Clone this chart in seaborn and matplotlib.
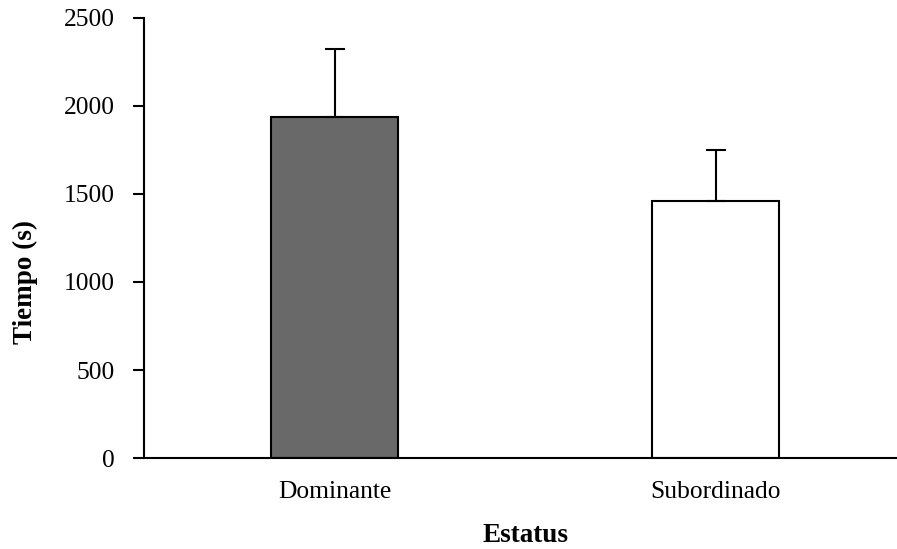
import matplotlib
matplotlib.use("Agg")
import matplotlib.pyplot as plt
import seaborn as sns
import pandas as pd

categories = ["Dominante", "Subordinado"]
means = [1934, 1458]
errors = [385, 291]
colors = ["#696969", "#ffffff"]
yticks = [0, 500, 1000, 1500, 2000, 2500]

sns.set_theme(style="white")
plt.rcParams['font.family'] = ['Liberation Serif', 'DejaVu Serif']

fig = plt.figure(figsize=(8.97, 5.49), dpi=100)
ax = fig.add_axes([144/897, 90.7/549, 762/897, 440.8/549])

df = pd.DataFrame({"Estatus": categories, "Tiempo": means})
sns.barplot(data=df, x="Estatus", y="Tiempo", hue="Estatus", palette=colors,
            width=1/3, edgecolor="black", linewidth=1.5, legend=False, ax=ax,
            errorbar=None)

ax.errorbar(x=range(len(categories)), y=means, yerr=[[0]*len(errors), errors],
            fmt="none", ecolor="black", elinewidth=1.5, capsize=7.5, capthick=1.5)

ax.set_xlim(-0.5, 1.5)
ax.set_ylim(0, 2500)
ax.set_yticks(yticks)
for s in ["top", "right"]:
    ax.spines[s].set_visible(False)
for s in ["left", "bottom"]:
    ax.spines[s].set_color("black")
    ax.spines[s].set_linewidth(1.5)

ax.tick_params(axis="y", which="both", left=True, length=8, width=1.5,
               direction="out", pad=13, labelsize=18.4, colors="black")
ax.tick_params(axis="x", bottom=False, pad=10, labelsize=18.4, colors="black")

ax.set_xlabel("Estatus", fontsize=19.5, fontweight="bold", color="black")
ax.set_ylabel("Tiempo (s)", fontsize=19.5, fontweight="bold", color="black")
ax.xaxis.label.set_va("center")
ax.xaxis.set_label_coords(0.5, -76.7/440.8)
ax.yaxis.label.set_va("center")
ax.yaxis.set_label_coords((25-144)/762, 0.40)

fig.savefig("out.png", dpi=100)
